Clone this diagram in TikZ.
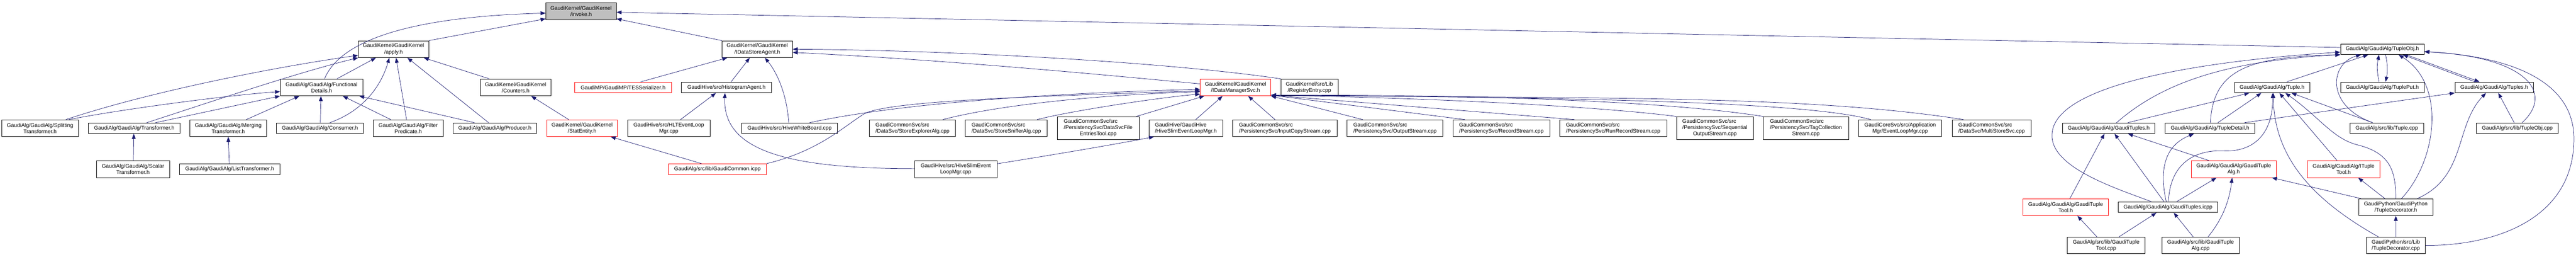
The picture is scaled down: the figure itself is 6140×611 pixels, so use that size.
\documentclass[tikz,border=0pt]{standalone}
\usepackage{fontspec}
\setmainfont{Liberation Sans}
\usetikzlibrary{arrows.meta}
\definecolor{depblue}{HTML}{191970}
\newcommand{\depfont}{\fontsize{12.8pt}{14.8pt}\selectfont}
\newcommand{\tripleline}[3]{\begin{tabular}{@{}l@{}}#1\\#2\\\multicolumn{1}{@{}c@{}}{#3}\end{tabular}}
\tikzset{
  box/.style={draw=black, line width=0.9pt, fill=white, inner sep=0pt, font=\depfont, align=center},
  oneline/.style={minimum height=25.5pt},
  twoline/.style={minimum height=40pt},
  threeline/.style={minimum height=55pt},
  lefttext/.style={align=left},
  cut/.style={draw=red},
  dep/.style={draw=depblue, line width=0.9pt, {Triangle[length=12pt,width=9pt]}-}
}
\begin{document}
\begin{tikzpicture}[x=1pt,y=-1pt]
\useasboundingbox (0,0) rectangle (6140,611);
% row 0
\node[box, twoline, fill=gray!50, minimum width=168pt] (invoke) at (1385,26.7) {GaudiKernel/GaudiKernel\\/invoke.h};
% row 1
\node[box, twoline, minimum width=168pt] (apply) at (938,117) {GaudiKernel/GaudiKernel\\/apply.h};
\node[box, twoline, minimum width=168pt] (dsagent) at (1805,117) {GaudiKernel/GaudiKernel\\/IDataStoreAgent.h};
\node[box, oneline, minimum width=199.4pt] (tupleobj) at (5678.3,117) {GaudiAlg/GaudiAlg/TupleObj.h};
% row 2
\node[box, twoline, minimum width=197pt] (fdetails) at (766.5,208) {GaudiAlg/GaudiAlg/Functional\\Details.h};
\node[box, twoline, minimum width=168pt] (counters) at (1229,208) {GaudiKernel/GaudiKernel\\/Counters.h};
\node[box, oneline, cut, minimum width=230pt] (tesser) at (1485,208) {GaudiMP/GaudiMP/TESSerializer.h};
\node[box, oneline, minimum width=215pt] (histagent) at (1731.5,208) {GaudiHive/src/HistogramAgent.h};
\node[box, twoline, cut, minimum width=168pt] (dmsvc) at (2945,208) {GaudiKernel/GaudiKernel\\/IDataManagerSvc.h};
\node[box, twoline, minimum width=136pt] (registry) at (3121,208) {GaudiKernel/src/Lib\\/RegistryEntry.cpp};
\node[box, oneline, minimum width=179pt] (tupleh) at (5415.5,208) {GaudiAlg/GaudiAlg/Tuple.h};
\node[box, oneline, minimum width=199.4pt] (tupleput) at (5678.3,208) {GaudiAlg/GaudiAlg/TuplePut.h};
\node[box, oneline, minimum width=187pt] (tuplesh) at (5945,208) {GaudiAlg/GaudiAlg/Tuples.h};
% row 3
\node[box, twoline, minimum width=183pt] (splitting) at (95.5,305) {GaudiAlg/GaudiAlg/Splitting\\Transformer.h};
\node[box, oneline, minimum width=218pt] (transformer) at (320,305) {GaudiAlg/GaudiAlg/Transformer.h};
\node[box, twoline, minimum width=183pt] (merging) at (544,305) {GaudiAlg/GaudiAlg/Merging\\Transformer.h};
\node[box, oneline, minimum width=207pt] (consumer) at (762.5,305) {GaudiAlg/GaudiAlg/Consumer.h};
\node[box, twoline, minimum width=166pt] (filter) at (973,305) {GaudiAlg/GaudiAlg/Filter\\Predicate.h};
\node[box, oneline, minimum width=199pt] (producer) at (1179.5,305) {GaudiAlg/GaudiAlg/Producer.h};
\node[box, twoline, cut, minimum width=169pt] (statentity) at (1387.5,305) {GaudiKernel/GaudiKernel\\/StatEntity.h};
\node[box, twoline, minimum width=196pt] (hltmgr) at (1594,305) {GaudiHive/src/HLTEventLoop\\Mgr.cpp};
\node[box, oneline, minimum width=229pt] (whiteboard) at (1882,305) {GaudiHive/src/HiveWhiteBoard.cpp};
\node[box, twoline, lefttext, minimum width=205pt] (explorer) at (2175,305) {GaudiCommonSvc/src\\/DataSvc/StoreExplorerAlg.cpp};
\node[box, twoline, lefttext, minimum width=195pt] (sniffer) at (2398.5,305) {GaudiCommonSvc/src\\/DataSvc/StoreSnifferAlg.cpp};
\node[box, threeline, minimum width=195pt] (fileentries) at (2617.5,305) {\tripleline{GaudiCommonSvc/src}{/PersistencySvc/DataSvcFile}{EntriesTool.cpp}};
\node[box, twoline, lefttext, minimum width=175pt] (slimmgrh) at (2826.5,305) {GaudiHive/GaudiHive\\/HiveSlimEventLoopMgr.h};
\node[box, twoline, lefttext, minimum width=249pt] (inputcopy) at (3062.5,305) {GaudiCommonSvc/src\\/PersistencySvc/InputCopyStream.cpp};
\node[box, twoline, lefttext, minimum width=228pt] (outputstream) at (3325,305) {GaudiCommonSvc/src\\/PersistencySvc/OutputStream.cpp};
\node[box, twoline, lefttext, minimum width=231pt] (recordstream) at (3578.5,305) {GaudiCommonSvc/src\\/PersistencySvc/RecordStream.cpp};
\node[box, twoline, lefttext, minimum width=255pt] (runrecord) at (3845,305) {GaudiCommonSvc/src\\/PersistencySvc/RunRecordStream.cpp};
\node[box, threeline, minimum width=183pt] (seqoutput) at (4087.5,305) {\tripleline{GaudiCommonSvc/src}{/PersistencySvc/Sequential}{OutputStream.cpp}};
\node[box, threeline, minimum width=203pt] (tagcoll) at (4304.5,305) {\tripleline{GaudiCommonSvc/src}{/PersistencySvc/TagCollection}{Stream.cpp}};
\node[box, twoline, minimum width=198pt] (eventloop) at (4529,305) {GaudiCoreSvc/src/Application\\Mgr/EventLoopMgr.cpp};
\node[box, twoline, lefttext, minimum width=188.5pt] (multistore) at (4747,305) {GaudiCommonSvc/src\\/DataSvc/MultiStoreSvc.cpp};
\node[box, oneline, minimum width=220pt] (gtuplesh) at (5026,305) {GaudiAlg/GaudiAlg/GaudiTuples.h};
\node[box, oneline, minimum width=213pt] (tupledetail) at (5267.5,305) {GaudiAlg/GaudiAlg/TupleDetail.h};
\node[box, oneline, minimum width=175pt] (tuplecpp) at (5689,305) {GaudiAlg/src/lib/Tuple.cpp};
\node[box, oneline, minimum width=195pt] (tupleobjcpp) at (6000,305) {GaudiAlg/src/lib/TupleObj.cpp};
% row 4
\node[box, twoline, minimum width=174pt] (scalar) at (317,402.4) {GaudiAlg/GaudiAlg/Scalar\\Transformer.h};
\node[box, oneline, minimum width=239pt] (listtr) at (547.5,402.4) {GaudiAlg/GaudiAlg/ListTransformer.h};
\node[box, oneline, cut, minimum width=234pt] (gcommon) at (1710,402.4) {GaudiAlg/src/lib/GaudiCommon.icpp};
\node[box, twoline, minimum width=196pt] (slimmgrcpp) at (2278,402.4) {GaudiHive/src/HiveSlimEvent\\LoopMgr.cpp};
\node[box, twoline, cut, minimum width=203pt] (gtuplealg) at (5324,402.4) {GaudiAlg/GaudiAlg/GaudiTuple\\Alg.h};
\node[box, twoline, cut, minimum width=173pt] (ituple) at (5586,402.4) {GaudiAlg/GaudiAlg/ITuple\\Tool.h};
% row 5
\node[box, twoline, cut, minimum width=203pt] (gtupletool) at (4923.5,493) {GaudiAlg/GaudiAlg/GaudiTuple\\Tool.h};
\node[box, oneline, minimum width=237pt] (gtuplesicpp) at (5167.5,493) {GaudiAlg/GaudiAlg/GaudiTuples.icpp};
\node[box, twoline, minimum width=176pt] (tdecoh) at (5710.5,493) {GaudiPython/GaudiPython\\/TupleDecorator.h};
% row 6
\node[box, twoline, minimum width=185pt] (gtupletoolcpp) at (5020,584) {GaudiAlg/src/lib/GaudiTuple\\Tool.cpp};
\node[box, twoline, minimum width=184pt] (gtuplealgcpp) at (5245,584) {GaudiAlg/src/lib/GaudiTuple\\Alg.cpp};
\node[box, twoline, minimum width=140pt] (tdecocpp) at (5710.4,584) {GaudiPython/src/Lib\\/TupleDecorator.cpp};

% invoke.h
\draw[dep] ([yshift=-4.5pt]invoke.west) .. controls (1050,38) and (820,75) .. ([xshift=7pt]fdetails.north);
\draw[dep] ([yshift=-18pt]invoke.west) -- (apply.north east);
\draw[dep] ([yshift=-2.5pt]invoke.east) -- ([yshift=4pt]tupleobj.west);
\draw[dep] ([yshift=-18pt]invoke.east) -- (dsagent.north west);
% apply.h
\draw[dep] ([yshift=-14.7pt]apply.west) .. controls (650,160) and (350,220) .. ([xshift=61.5pt]splitting.north);
\draw[dep] (apply.south west) .. controls (700,175) and (480,250) .. ([xshift=30pt]transformer.north);
\draw[dep] ([xshift=-42pt]apply.south) -- ([xshift=36.5pt]fdetails.north);
\draw[dep] ([xshift=-10pt]apply.south) .. controls (910,200) and (870,262) .. ([xshift=24pt]consumer.north);
\draw[dep] ([xshift=6pt]apply.south) -- ([xshift=-4pt]filter.north);
\draw[dep] ([xshift=33pt]apply.south) -- ([xshift=-15pt]producer.north);
\draw[dep] ([xshift=72pt]apply.south) -- ([xshift=-62.6pt]counters.north);
% FunctionalDetails.h
\draw[dep] ([yshift=-10pt]fdetails.west) .. controls (560,225) and (300,258) .. ([xshift=68.5pt]splitting.north);
\draw[dep] (fdetails.south west) -- ([xshift=51pt]transformer.north);
\draw[dep] ([xshift=-53pt]fdetails.south) -- ([xshift=43pt]merging.north);
\draw[dep] ([xshift=-1.5pt]fdetails.south) -- ([xshift=1pt]consumer.north);
\draw[dep] ([xshift=50.5pt]fdetails.south) -- ([xshift=-41.6pt]filter.north);
\draw[dep] ([xshift=89.5pt]fdetails.south) -- ([xshift=-49pt]producer.north);
\draw[dep] ([xshift=-1pt]transformer.south) -- ([xshift=1pt]scalar.north);
\draw[dep] (merging.south) -- ([xshift=-1pt]listtr.north);
% Counters.h
\draw[dep] ([xshift=37pt]counters.south) -- ([xshift=-32pt]statentity.north);
\draw[dep] ([xshift=68pt]statentity.south) -- ([xshift=-38pt]gcommon.north);
% IDataStoreAgent.h
\draw[dep] ([xshift=-71.4pt]dsagent.south) -- ([xshift=42pt]tesser.north);
\draw[dep] ([xshift=-18pt]dsagent.south) -- ([xshift=11pt]histagent.north);
\draw[dep] ([xshift=18pt]dsagent.south) .. controls (1850,170) and (1875,220) .. ([xshift=-2pt]whiteboard.north);
\draw[dep] (dsagent.east) .. controls (2300,120) and (2800,150) .. (registry.north west);
\draw[dep] ([yshift=-7.7pt]dsagent.east) .. controls (2300,145) and (2700,185) .. ([yshift=8.5pt]dmsvc.west);
\draw[dep] ([xshift=-25pt]histagent.south) -- ([xshift=28pt]hltmgr.north);
\draw[dep] ([xshift=-3.5pt]histagent.south) .. controls (1722,360) and (1880,401) .. ([yshift=1pt]slimmgrcpp.west);
\draw[dep] ([xshift=12pt]slimmgrh.south west) .. controls (2650,345) and (2500,370) .. ([yshift=12.7pt]slimmgrcpp.east);
% IDataManagerSvc.h
\draw[dep] ([yshift=-4.4pt]dmsvc.west) .. controls (2500,222) and (2150,245) .. ([xshift=48pt]whiteboard.north);
\draw[dep] ([yshift=-8pt]dmsvc.west) .. controls (2450,230) and (2110,240) .. (2058,272) .. controls (2010,302) and (1950,360) .. (gcommon.north east);
\draw[dep] ([yshift=-10pt]dmsvc.west) .. controls (2650,225) and (2400,245) .. ([xshift=72pt]explorer.north);
\draw[dep] ([yshift=-16pt]dmsvc.west) .. controls (2780,230) and (2560,262) .. ([xshift=73.5pt]sniffer.north);
\draw[dep] ([xshift=10pt]dmsvc.south west) -- ([xshift=-7pt]fileentries.north east);
\draw[dep] ([xshift=-31pt]dmsvc.south) -- ([xshift=23.5pt]slimmgrh.north);
\draw[dep] ([xshift=30pt]dmsvc.south) -- ([xshift=-23.5pt]inputcopy.north);
\draw[dep] (dmsvc.south east) -- ([xshift=-77pt]outputstream.north);
\draw[dep] ([yshift=2pt]dmsvc.south east) -- ([xshift=29pt]recordstream.north west);
\draw[dep] ([yshift=2pt]dmsvc.south east) -- ([xshift=35.4pt]runrecord.north west);
\draw[dep] ([yshift=2pt]dmsvc.south east) .. controls (3500,235) and (3850,258) .. (seqoutput.north west);
\draw[dep] ([yshift=2pt]dmsvc.south east) .. controls (3600,225) and (4000,245) .. (tagcoll.north west);
\draw[dep] ([yshift=2pt]dmsvc.south east) .. controls (3700,232) and (4300,240) .. ([xshift=-70pt]eventloop.north);
\draw[dep] ([yshift=2pt]dmsvc.south east) .. controls (3800,235) and (4300,225) .. ([xshift=-67pt]multistore.north);
% TupleObj.h
\draw[dep] ([yshift=-7pt]tupleobj.west) .. controls (5250,145) and (4895,200) .. (4891,320) .. controls (4887,400) and (5050,450) .. ([xshift=-40pt]gtuplesicpp.north);
\draw[dep] (tupleobj.south west) .. controls (5300,145) and (5150,200) .. ([xshift=19pt]gtuplesh.north);
\draw[dep] (tupleobj.south west) .. controls (5360,135) and (5275,165) .. ([xshift=1pt]tupledetail.north);
\draw[dep] ([xshift=-33.5pt]tupleobj.south) -- ([xshift=35pt]tupleh.north);
\draw[dep] ([xshift=-50.8pt]tupleobj.south) .. controls (5555,150) and (5540,250) .. ([xshift=-34pt]tuplecpp.north);
\draw[dep] ([xshift=-7.7pt]tupleobj.south) to[bend right=12] ([xshift=-7.7pt]tupleput.north);
\draw[dep] ([xshift=7.7pt]tupleput.north) to[bend right=12] ([xshift=7.7pt]tupleobj.south);
\draw[dep] ([xshift=49pt]tupleobj.south) -- ([xshift=-45.4pt]tuplesh.north);
\draw[dep] ([xshift=-35pt]tuplesh.north) -- ([xshift=57pt]tupleobj.south);
\draw[dep] ([xshift=38.7pt]tupleobj.south) .. controls (5830,200) and (5810,380) .. ([xshift=13.5pt]tdecoh.north);
\draw[dep] ([yshift=-6pt]tupleobj.east) .. controls (6020,135) and (6090,220) .. ([xshift=11.5pt]tupleobjcpp.north);
\draw[dep] ([yshift=-6pt]tupleobj.east) .. controls (6000,135) and (6135,200) .. (6135,330) .. controls (6135,520) and (5950,585) .. (tdecocpp.east);
% Tuple.h
\draw[dep] ([xshift=-54pt]tupleh.south) -- ([xshift=46pt]gtuplesh.north);
\draw[dep] ([xshift=-25.5pt]tupleh.south) -- ([xshift=19pt]tupledetail.north);
\draw[dep] ([xshift=1.3pt]tupleh.south) .. controls (5418,320) and (5370,362) .. (5300,359) .. controls (5230,356) and (5172,390) .. ([xshift=1.1pt]gtuplesicpp.north);
\draw[dep] ([xshift=17.4pt]tupleh.south) -- ([xshift=-15.6pt]ituple.north);
\draw[dep] ([xshift=31.6pt]tupleh.south) .. controls (5530,280) and (5560,330) .. (5620,345) .. controls (5700,365) and (5710,410) .. (tdecoh.north);
\draw[dep] ([xshift=46pt]tupleh.south) -- ([xshift=-34pt]tuplecpp.north);
\draw[dep] ([xshift=3pt]tupleh.south) .. controls (5420,380) and (5520,480) .. ([xshift=-41.5pt]tdecocpp.north);
% GaudiTuples.h, TupleDetail.h
\draw[dep] ([xshift=46pt]gtuplesh.south) -- ([xshift=-59pt]gtuplealg.north);
\draw[dep] ([xshift=14pt]gtuplesh.south) -- ([xshift=-9.6pt]gtuplesicpp.north);
\draw[dep] ([xshift=-10pt]gtuplesh.south) -- ([xshift=10pt]gtupletool.north);
\draw[dep] ([xshift=-38pt]tupledetail.south) .. controls (5150,350) and (5150,420) .. ([xshift=-4.3pt]gtuplesicpp.north);
\draw[dep] (tuplesh.south west) -- ([xshift=83pt]tupledetail.north);
% GaudiTupleAlg.h, GaudiTuples.icpp
\draw[dep] ([xshift=-41pt]gtuplealg.south) -- ([xshift=20.7pt]gtuplesicpp.north);
\draw[dep] ([xshift=-3.6pt]gtuplealg.south) .. controls (5312,490) and (5290,530) .. ([xshift=18pt]gtuplealgcpp.north);
\draw[dep] ([xshift=91pt]gtuplealg.south) -- ([xshift=-83pt]tdecoh.north);
\draw[dep] ([xshift=-27.5pt]gtuplesicpp.south) -- ([xshift=30.7pt]gtupletoolcpp.north);
\draw[dep] ([xshift=13.6pt]gtuplesicpp.south) -- ([xshift=-17.5pt]gtuplealgcpp.north);
\draw[dep] ([xshift=28pt]gtupletool.south) -- ([xshift=-22pt]gtupletoolcpp.north);
% ITupleTool.h, Tuples.h, TupleDecorator.h
\draw[dep] ([xshift=34.7pt]ituple.south) -- ([xshift=-26pt]tdecoh.north);
\draw[dep] (tdecoh.south) -- (tdecocpp.north);
\draw[dep] ([xshift=-19.6pt]tuplesh.south) .. controls (5850,300) and (5880,420) .. ([xshift=51.3pt]tdecoh.north);
\draw[dep] ([xshift=9.7pt]tuplesh.south) -- ([xshift=-7.4pt]tupleobjcpp.north);
\end{tikzpicture}
\end{document}
